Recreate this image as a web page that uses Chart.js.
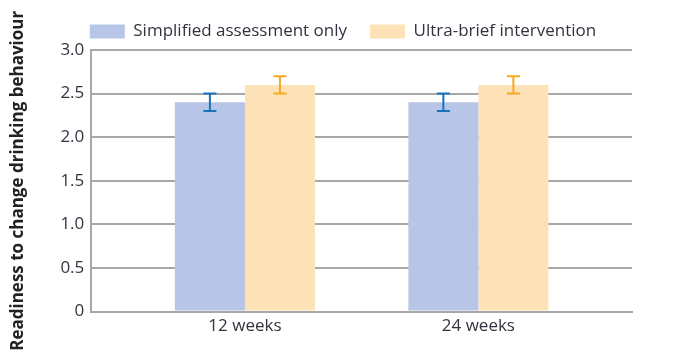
<!DOCTYPE html>
<html>
<head>
<meta charset="utf-8">
<script src="https://cdn.jsdelivr.net/npm/chart.js@4"></script>
<style>
html,body{margin:0;padding:0;background:#fff;}
#wrap{width:678px;height:355px;position:relative;}
</style>
</head>
<body>
<div id="wrap"><canvas id="c" width="678" height="355"></canvas></div>
<script>
const categories = ['12 weeks', '24 weeks'];
const seriesNames = ['Simplified assessment only', 'Ultra-brief intervention'];
const assessmentOnly = [2.4, 2.4];
const ultraBrief = [2.6, 2.6];
const assessmentErrLow = [2.3, 2.3];
const assessmentErrHigh = [2.5, 2.5];
const ultraBriefErrLow = [2.5, 2.5];
const ultraBriefErrHigh = [2.7, 2.7];
const yTicks = [0, 0.5, 1.0, 1.5, 2.0, 2.5, 3.0];
const yTitle = 'Readiness to change drinking behaviour';

const FONT = "'Open Sans', sans-serif";

const errorBars = {
  id: 'errorBars',
  afterDatasetsDraw(chart) {
    const ctx = chart.ctx;
    const y = chart.scales.y;
    chart.data.datasets.forEach((ds, di) => {
      const meta = chart.getDatasetMeta(di);
      meta.data.forEach((bar, i) => {
        const x = bar.x;
        const yl = y.getPixelForValue(ds.errLow[i]);
        const yh = y.getPixelForValue(ds.errHigh[i]);
        ctx.save();
        ctx.strokeStyle = ds.errColor;
        ctx.lineWidth = 2;
        ctx.beginPath();
        ctx.moveTo(x, yl); ctx.lineTo(x, yh);
        ctx.moveTo(x - 6.5, yl); ctx.lineTo(x + 6.5, yl);
        ctx.moveTo(x - 6.5, yh); ctx.lineTo(x + 6.5, yh);
        ctx.stroke();
        ctx.restore();
      });
    });
  }
};

// shift the legend so it sits over the plot like the reference
const legendShift = {
  id: 'legendShift',
  afterLayout(chart) {
    const lg = chart.legend;
    if (lg) { lg.left += 25; lg.right += 25; }
  }
};

new Chart(document.getElementById('c'), {
  type: 'bar',
  data: {
    labels: categories,
    datasets: [
      { label: seriesNames[0], data: assessmentOnly, backgroundColor: '#b7c6e6',
        errLow: assessmentErrLow, errHigh: assessmentErrHigh, errColor: '#1a72bb' },
      { label: seriesNames[1], data: ultraBrief, backgroundColor: '#fde2b7',
        errLow: ultraBriefErrLow, errHigh: ultraBriefErrHigh, errColor: '#f6a81f' }
    ]
  },
  plugins: [errorBars, legendShift],
  options: {
    responsive: false,
    animation: false,
    devicePixelRatio: 1,
    layout: { padding: { left: 4, right: 46, top: 0, bottom: 15 } },
    datasets: { bar: { barPercentage: 1.0, categoryPercentage: 0.6 } },
    plugins: {
      legend: {
        display: true,
        position: 'top',
        labels: {
          boxWidth: 35, boxHeight: 14, padding: 23,
          color: '#333340',
          font: { family: FONT, size: 17 }
        }
      },
      tooltip: { enabled: false }
    },
    scales: {
      x: {
        offset: true,
        afterBuildTicks: (s) => { s._startValue = -0.658; s._valueRange = 2.316; },
        grid: { display: false, drawTicks: false },
        border: { display: true, color: '#a8a8a8', width: 2 },
        ticks: { color: '#333340', font: { family: FONT, size: 17 }, padding: 4 }
      },
      y: {
        min: 0, max: 3,
        z: 1,
        afterBuildTicks: (s) => { s.ticks = yTicks.map(v => ({ value: v })); },
        ticks: {
          color: '#333340', font: { family: FONT, size: 17 }, padding: 7,
          callback: (v) => v === 0 ? '0' : Number(v).toFixed(1)
        },
        grid: { color: '#a8a8a8', lineWidth: 2, drawTicks: false },
        border: { display: true, color: '#a8a8a8', width: 2 },
        title: {
          display: true, text: yTitle, color: '#222222',
          font: { family: FONT, size: 17, weight: 'bold' }, padding: { top: 4, bottom: 25 }
        }
      }
    }
  }
});
</script>
</body>
</html>
